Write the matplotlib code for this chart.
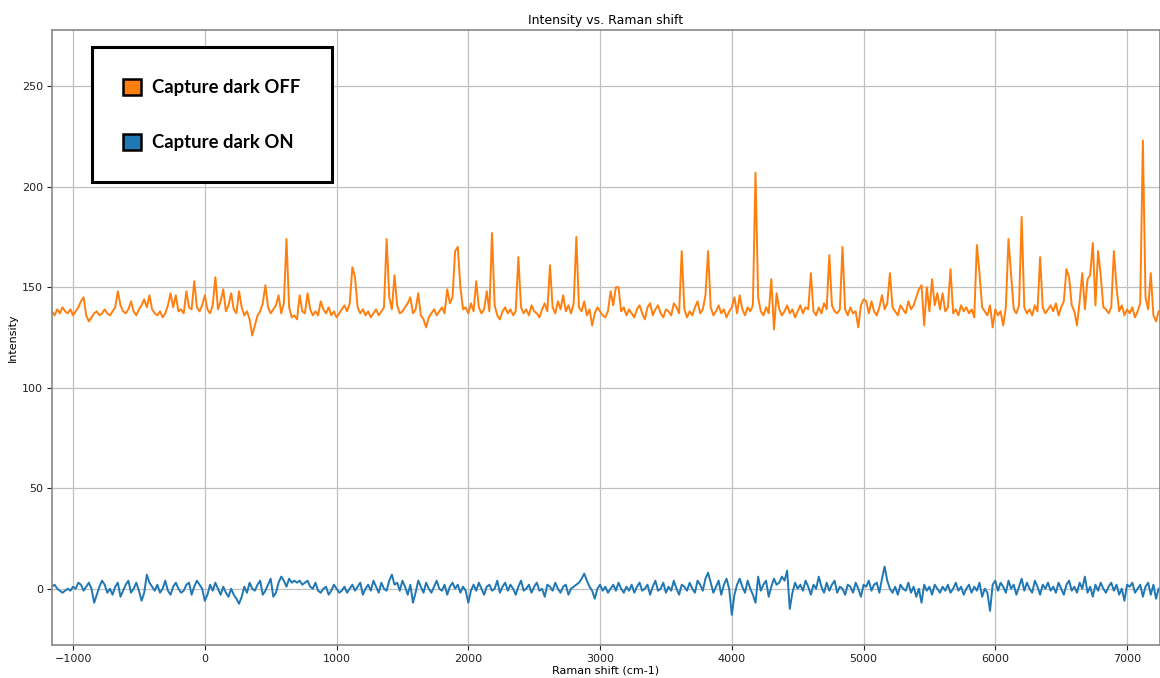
import numpy as np
import matplotlib
matplotlib.use("Agg")
import matplotlib.pyplot as plt
from matplotlib.patches import Patch

# Raman shift axis (cm-1), regular sampling
x_start, x_step = -1160, 20

intensity_dark_off = [
    138,136,139,137,140,138,137,139,136,138, 140,143,145,136,133,135,137,138,136,137,
    139,137,136,138,140,148,141,138,137,139, 143,138,136,139,141,144,140,146,139,137,
    136,138,135,137,141,147,140,146,138,139, 137,148,140,139,153,140,138,141,146,139,
    137,141,155,139,143,149,138,141,147,139, 137,148,140,136,138,134,126,131,136,138,
    142,151,140,137,139,141,146,137,142,174, 140,135,136,134,146,138,137,147,139,136,
    138,136,143,139,137,140,136,138,135,137, 139,141,138,142,160,155,140,137,139,136,
    138,135,137,139,136,138,140,174,145,139, 156,141,137,138,140,142,145,137,139,147,
    136,134,130,135,137,139,136,138,140,137, 149,142,145,168,170,150,139,140,137,142,
    138,153,140,137,139,148,138,177,141,136, 134,138,140,137,139,136,138,165,140,137,
    139,136,141,138,137,135,139,142,138,161, 140,137,143,139,146,138,141,137,142,175,
    140,138,143,136,139,131,137,140,138,136, 135,138,148,141,150,150,138,140,136,139,
    137,135,139,141,137,134,140,142,136,139, 141,137,135,139,138,136,142,140,137,168,
    139,135,138,136,140,143,137,139,146,168, 140,136,138,141,137,139,135,138,140,145,
    137,146,139,136,140,138,141,207,145,138, 136,140,137,154,129,147,139,136,138,141,
    137,139,135,138,141,137,140,139,157,138, 136,140,137,142,139,166,141,138,137,139,
    170,139,136,140,137,138,130,141,144,143, 137,143,138,136,140,146,139,142,157,140,
    138,136,141,139,137,143,139,141,145,149, 151,131,150,138,154,141,147,139,147,138,
    140,159,137,139,136,141,138,140,137,139, 135,171,157,140,138,136,141,130,139,136,
    138,131,140,174,156,139,137,141,185,140, 137,139,136,141,138,165,140,137,139,141,
    138,142,136,140,143,159,155,141,138,131, 143,157,139,154,156,172,141,168,156,140,
    139,137,140,168,150,138,141,136,139,137, 140,135,138,142,223,145,139,157,136,133,138,
]

intensity_dark_on = [
    1,2,0,-1,-2,-1,0,-1,1,0, 3,2,-1,1,3,0,-7,-3,1,4,
    2,-2,0,-3,1,3,-4,-1,2,4, -2,0,3,-1,-6,-2,7,3,1,-1,
    2,-2,0,4,-1,-3,1,3,0,-2, -1,2,3,-3,1,4,2,0,-6,-3,
    2,-1,3,0,-3,1,-2,-4,0,-3, -5,-7.5,-4,1,-2,3,0,-1,2,4,
    -3,-1,2,5,-4,-2,3,6,4,1, 5,3,4,3,4,2,3,4,1,0,
    3,-1,-2,0,1,-3,-1,2,0,-2, -1,1,-2,0,2,-1,1,3,-3,0,
    2,-1,4,1,-2,3,0,-1,4,7, 2,3,-1,4,1,-3,2,-7,-2,4,
    1,-2,3,0,-2,1,4,0,-1,2, -3,1,3,0,2,-2,1,-1,-7,-1,
    2,-1,3,0,-3,1,2,-1,0,4, -2,1,3,-1,2,0,-3,1,4,-1,
    0,2,-2,1,3,-1,0,-4,2,1, -1,3,0,-2,1,2,-3,0,1,2,
    3,5,7.5,4,1,-1,-5,0,2,-1, 1,-2,0,2,-1,3,0,-2,1,-1,
    2,-2,1,3,-1,0,2,-3,1,4, -1,0,3,-2,1,-1,4,0,-3,2,
    1,-1,3,0,-2,4,2,-1,5,8, 3,-2,1,4,-3,2,5,0,-13,-3,
    2,5,1,-2,4,0,-3,-7,6,-1, 2,4,-4,1,5,2,3,6,4,9,
    -10,-2,3,0,2,-1,4,1,-3,2, 0,6,1,-2,3,-1,2,4,-2,1,
    0,-3,2,1,-2,3,0,-4,2,1, 4,-1,2,3,-2,5,11,4,0,-2,
    1,-3,2,0,-1,3,-2,1,-4,0, -7,2,-1,1,-3,2,0,-2,1,-1,
    2,-2,0,3,-1,1,-3,0,2,-2, 1,-1,3,-4,0,-2,-11,2,4,-1,
    3,1,-2,4,0,2,-3,1,5,-1, 3,0,-2,4,1,-3,2,0,3,-1,
    1,-2,3,0,-3,2,4,-1,1,-2, 3,0,6,-2,1,-4,2,-1,3,0,
    -2,1,3,-1,2,-3,0,-6,2,1, 3,-2,0,2,-4,1,3,-3,2,-5,0,
]

labels = ["Capture dark OFF", "Capture dark ON"]
colors = ["#ff7f0e", "#1f77b4"]
x_ticks = [-1000, 0, 1000, 2000, 3000, 4000, 5000, 6000, 7000]
y_ticks = [0, 50, 100, 150, 200, 250]

raman_shift = x_start + x_step * np.arange(len(intensity_dark_off))

fig = plt.figure(figsize=(11.6, 6.78), dpi=100)
ax = fig.add_axes([0.0448, 0.0487, 0.9552, 0.9071])

ax.plot(raman_shift, intensity_dark_off, color=colors[0], lw=1.4)
ax.plot(raman_shift, intensity_dark_on, color=colors[1], lw=1.4)

ax.set_xlim(-1160, 7250)
ax.set_ylim(-28, 278)
ax.set_xticks(x_ticks)
ax.set_yticks(y_ticks)
ax.tick_params(labelsize=8, colors="#222222", pad=3)
ax.grid(True, color="#c0c0c0", lw=0.9)
ax.set_axisbelow(True)
for s in ax.spines.values():
    s.set_color("#888888")
    s.set_linewidth(1.2)

ax.set_title("Intensity vs. Raman shift", fontsize=9, pad=4)
ax.set_xlabel("Raman shift (cm-1)", fontsize=8, labelpad=1)
ax.set_ylabel("Intensity", fontsize=8, labelpad=3)

handles = [Patch(facecolor=c, edgecolor="black", linewidth=1.8) for c in colors]
leg = ax.legend(handles, labels, loc="upper left", bbox_to_anchor=(0.036, 0.972),
                prop={"family": "Lato", "weight": "bold", "size": 13.3},
                frameon=True, fancybox=False, framealpha=1, edgecolor="black",
                borderpad=1.7, labelspacing=2.03, handlelength=0.97, handleheight=0.97,
                handletextpad=0.6, borderaxespad=0)
leg.get_frame().set_linewidth(2.2)

fig.savefig("out.png", dpi=100)
